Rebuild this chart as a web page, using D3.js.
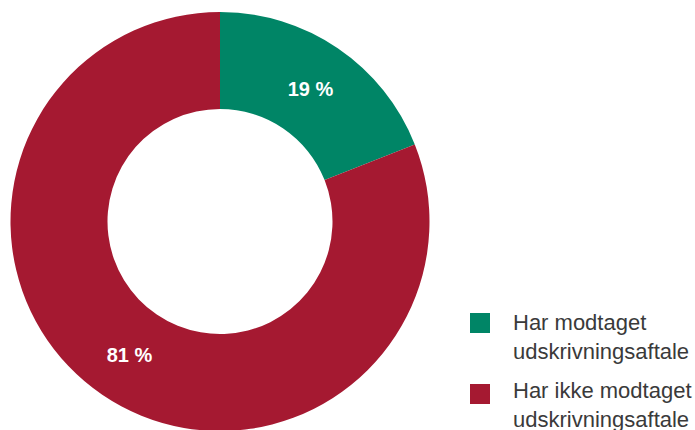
<!DOCTYPE html>
<html>
<head>
<meta charset="utf-8">
<script src="https://cdn.jsdelivr.net/npm/d3@7"></script>
<style>
  body { margin: 0; background: #fff; }
  svg { display: block; }
</style>
</head>
<body>
<div id="chart"></div>
<script>
/* Data */
var categories = ["Har modtaget udskrivningsaftale", "Har ikke modtaget udskrivningsaftale"];
var values = [19, 81];
var legendLines = [["Har modtaget", "udskrivningsaftale"], ["Har ikke modtaget", "udskrivningsaftale"]];
var colors = ["#008566", "#A51931"];

/* SVG container */
var width = 695,
    height = 430,
    cx = 220,
    cy = 221.5,
    outerR = 209.5,
    innerR = 112.5;

var svg = d3.select("#chart")
            .append("svg")
            .attr("width", width)
            .attr("height", height);

var color = d3.scaleOrdinal().domain(categories).range(colors);

var pie = d3.pie()
            .sort(null)
            .value(function(d) { return d.value; });

var arc = d3.arc()
            .innerRadius(innerR)
            .outerRadius(outerR);

var data = categories.map(function(c, i) { return { name: c, value: values[i] }; });

var g = svg.append("g")
           .attr("transform", "translate(" + cx + "," + cy + ")");

/* Slices */
g.selectAll("path")
    .data(pie(data))
    .enter().append("path")
    .attr("d", arc)
    .attr("fill", function(d) { return color(d.data.name); });

/* Slice labels */
g.selectAll("text.label")
    .data(pie(data))
    .enter().append("text")
    .attr("class", "label")
    .attr("transform", function(d) { return "translate(" + arc.centroid(d) + ")"; })
    .attr("text-anchor", "middle")
    .attr("dy", "0.36em")
    .attr("fill", "#fff")
    .attr("font-family", "Liberation Sans, Arial, sans-serif")
    .attr("font-weight", "bold")
    .attr("font-size", 20)
    .text(function(d) { return d.data.value + " %"; });

/* Legend */
var textOffset = [17, 14];

var legend = svg.append("g")
                .selectAll("g")
                .data(categories)
                .enter().append("g")
                .attr("transform", function(d, i) { return "translate(470," + (313 + i * 71) + ")"; });

legend.append("rect")
    .attr("width", 20)
    .attr("height", 20)
    .attr("fill", function(d) { return color(d); });

legend.each(function(d, i) {
    var t = d3.select(this).append("text")
              .attr("font-family", "Liberation Sans, Arial, sans-serif")
              .attr("font-size", 22)
              .attr("fill", "#3a3a3a");
    legendLines[i].forEach(function(line, j) {
        t.append("tspan")
            .attr("x", 43)
            .attr("y", textOffset[i] + j * 29)
            .text(line);
    });
});
</script>
</body>
</html>
